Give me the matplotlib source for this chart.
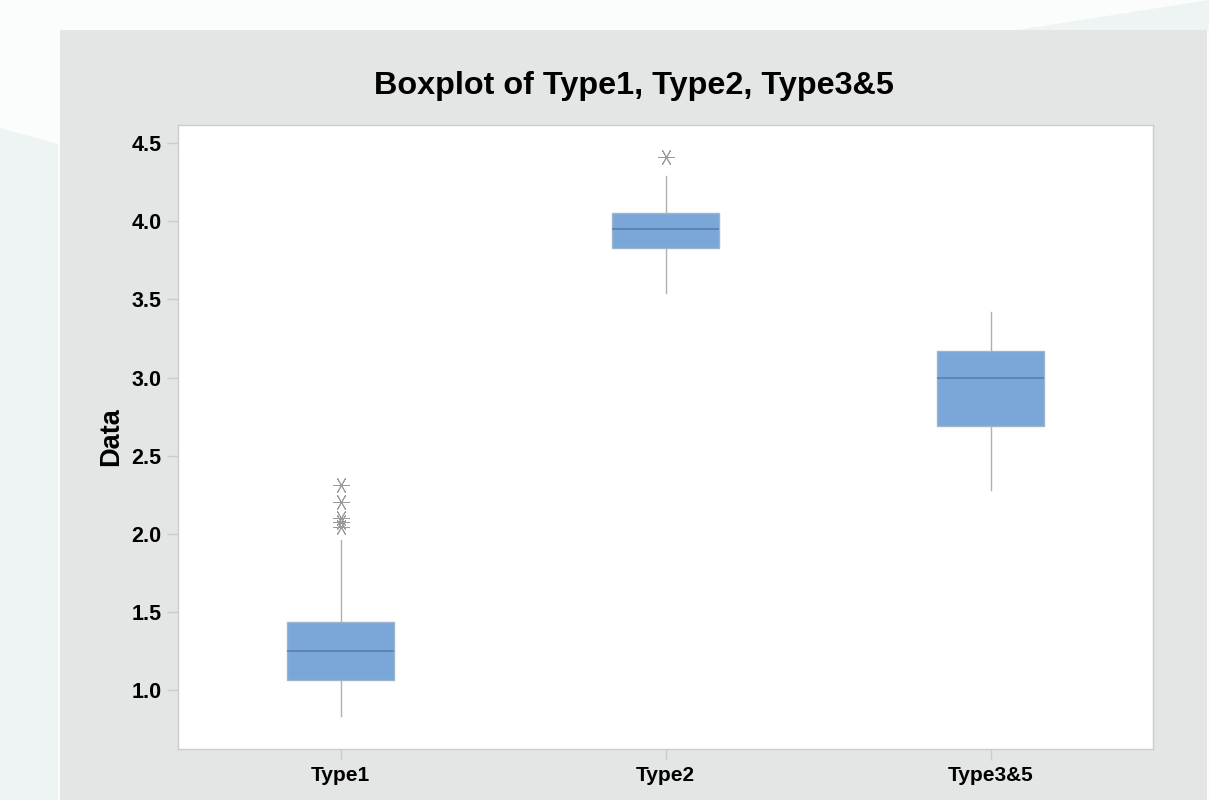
import matplotlib.pyplot as plt
from matplotlib.patches import Rectangle, Polygon

# values
labels = ['Type1', 'Type2', 'Type3&5']
q1 = [1.064, 3.829, 2.690]
med = [1.249, 3.948, 2.995]
q3 = [1.434, 4.052, 3.169]
whislo = [0.830, 3.538, 2.282]
whishi = [1.962, 4.291, 3.418]
fliers = [[2.312, 2.203, 2.101, 2.073, 2.045], [4.415], []]

title = 'Boxplot of Type1, Type2, Type3&5'
yticks = [1.0, 1.5, 2.0, 2.5, 3.0, 3.5, 4.0, 4.5]

plt.rcParams['font.family'] = ['Liberation Sans', 'DejaVu Sans']

fig = plt.figure(figsize=(12.09, 8), dpi=100)
fig.patch.set_facecolor('#fbfcfc')

# light background shapes behind the panel
fig.patches.append(Polygon([(0, 0), (0.048, 0), (0.048, 0.82), (0, 0.84)], closed=True,
                           transform=fig.transFigure, facecolor='#eef3f4', edgecolor='none', zorder=-3))
fig.patches.append(Polygon([(0.84, 0.962), (1.0, 1.0), (1.0, 0.962)], closed=True,
                           transform=fig.transFigure, facecolor='#eef3f4', edgecolor='none', zorder=-3))
# gray Minitab panel
fig.patches.append(Rectangle((60 / 1209, 0), (1207 - 60) / 1209, 1 - 30 / 800,
                             transform=fig.transFigure, facecolor='#e4e6e6', edgecolor='none', zorder=-2))

ax = fig.add_axes([178 / 1209, 1 - 749 / 800, (1153 - 178) / 1209, (749 - 125) / 800])
ax.set_facecolor('white')

stats = []
for i in range(len(labels)):
    stats.append({'med': med[i], 'q1': q1[i], 'q3': q3[i], 'whislo': whislo[i],
                  'whishi': whishi[i], 'fliers': fliers[i], 'label': labels[i]})

ax.bxp(stats, positions=[1, 2, 3], widths=0.33, patch_artist=True, showcaps=False,
       boxprops=dict(facecolor='#7ba7d8', edgecolor='#9db5cf', linewidth=1),
       medianprops=dict(color='#5a7fae', linewidth=1.2),
       whiskerprops=dict(color='#b0b0b0', linewidth=1),
       flierprops=dict(marker=(6, 2, 90), markersize=12, markeredgecolor='#9a9a9a',
                       markeredgewidth=0.7, linestyle='none'))

ax.set_xlim(0.5, 3.5)
ax.set_ylim(0.621, 4.617)
ax.set_yticks(yticks)
ax.set_yticklabels([f'{v:.1f}' for v in yticks])

for s in ax.spines.values():
    s.set_color('#cccccc')
    s.set_linewidth(1)
ax.tick_params(axis='y', length=8, width=1, color='#cccccc', labelsize=15.5, pad=4)
ax.tick_params(axis='x', length=8, width=1, color='#cccccc', labelsize=15, pad=4)
for t in ax.get_xticklabels() + ax.get_yticklabels():
    t.set_fontweight('bold')

ax.set_ylabel('Data', fontsize=19.5, fontweight='bold', labelpad=5)
fig.text(634 / 1209, 1 - 86 / 800, title, ha='center', va='center',
         fontsize=23.3, fontweight='bold')

fig.savefig('out.png', dpi=100)
